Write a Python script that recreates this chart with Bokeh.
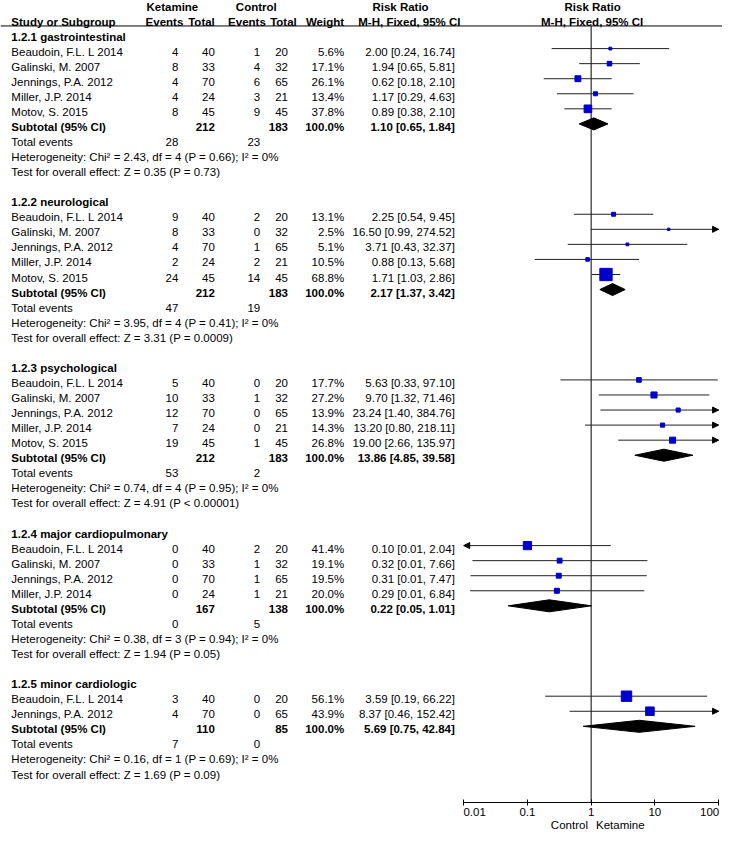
from bokeh.plotting import figure
from bokeh.models import (Range1d, ColumnDataSource, LogAxis, FixedTicker,
                          CustomJSTickFormatter, Arrow, NormalHead)
from bokeh.core.properties import value
from bokeh.embed import file_html
from bokeh.resources import INLINE

# ------------------------------------------------------------------ data
group_titles = ["1.2.1 gastrointestinal", "1.2.2 neurological", "1.2.3 psychological",
                "1.2.4 major cardiopulmonary", "1.2.5 minor cardiologic"]

study_group = [0, 0, 0, 0, 0,
               1, 1, 1, 1, 1,
               2, 2, 2, 2, 2,
               3, 3, 3, 3,
               4, 4]
study_names = ["Beaudoin, F.L. L 2014", "Galinski, M. 2007", "Jennings, P.A. 2012", "Miller, J.P. 2014", "Motov, S. 2015",
               "Beaudoin, F.L. L 2014", "Galinski, M. 2007", "Jennings, P.A. 2012", "Miller, J.P. 2014", "Motov, S. 2015",
               "Beaudoin, F.L. L 2014", "Galinski, M. 2007", "Jennings, P.A. 2012", "Miller, J.P. 2014", "Motov, S. 2015",
               "Beaudoin, F.L. L 2014", "Galinski, M. 2007", "Jennings, P.A. 2012", "Miller, J.P. 2014",
               "Beaudoin, F.L. L 2014", "Jennings, P.A. 2012"]
ket_events = [4, 8, 4, 4, 8,
              9, 8, 4, 2, 24,
              5, 10, 12, 7, 19,
              0, 0, 0, 0,
              3, 4]
ket_total = [40, 33, 70, 24, 45,
             40, 33, 70, 24, 45,
             40, 33, 70, 24, 45,
             40, 33, 70, 24,
             40, 70]
ctl_events = [1, 4, 6, 3, 9,
              2, 0, 1, 2, 14,
              0, 1, 0, 0, 1,
              2, 1, 1, 1,
              0, 0]
ctl_total = [20, 32, 65, 21, 45,
             20, 32, 65, 21, 45,
             20, 32, 65, 21, 45,
             20, 32, 65, 21,
             20, 65]
weight_pct = [5.6, 17.1, 26.1, 13.4, 37.8,
              13.1, 2.5, 5.1, 10.5, 68.8,
              17.7, 27.2, 13.9, 14.3, 26.8,
              41.4, 19.1, 19.5, 20.0,
              56.1, 43.9]
risk_ratio = [2.00, 1.94, 0.62, 1.17, 0.89,
              2.25, 16.50, 3.71, 0.88, 1.71,
              5.63, 9.70, 23.24, 13.20, 19.00,
              0.10, 0.32, 0.31, 0.29,
              3.59, 8.37]
ci_low = [0.24, 0.65, 0.18, 0.29, 0.38,
          0.54, 0.99, 0.43, 0.13, 1.03,
          0.33, 1.32, 1.40, 0.80, 2.66,
          0.0051, 0.0137, 0.0128, 0.0126,
          0.19, 0.46]
ci_high = [16.74, 5.81, 2.10, 4.63, 2.10,
           9.45, 274.52, 32.37, 5.68, 2.86,
           97.10, 71.46, 384.76, 218.11, 135.97,
           2.04, 7.66, 7.47, 6.84,
           66.22, 152.42]

sub_weight = [100.0, 100.0, 100.0, 100.0, 100.0]
sub_rr = [1.10, 2.17, 13.86, 0.22, 5.69]
sub_low = [0.65, 1.37, 4.85, 0.05, 0.75]
sub_high = [1.84, 3.42, 39.58, 1.01, 42.84]
het_chi2 = [2.43, 3.95, 0.74, 0.38, 0.16]
het_df = [4, 4, 4, 3, 1]
het_p = ["0.66", "0.41", "0.95", "0.94", "0.69"]
het_i2 = [0, 0, 0, 0, 0]
z_value = [0.35, 3.31, 4.91, 1.94, 1.69]
z_p = ["= 0.73", "= 0.0009", "< 0.00001", "= 0.05", "= 0.09"]

axis_ticks = [0.01, 0.1, 1, 10, 100]
axis_tick_labels = ["0.01", "0.1", "1", "10", "100"]
side_labels = ["Control", "Ketamine"]

# ------------------------------------------------------------------ layout helpers
PITCH = 15.38
ROW0 = 35.8


def Y(ref):
    return (ref - ROW0) / PITCH


def X(ref):
    return 10 ** (-2 + (ref - 469.0) / 64.5)


FONT = value("Liberation Sans")
FS = "11.5px"
BLUE = "#0000CC"

NAME_L, KE_R, KT_R, CE_R, CT_R, W_R, RR_R = 11, 180, 217, 263, 291, 348, 460

texts = {}


def add(ref_x, y, s, align, bold=False):
    key = (align, bold)
    d = texts.setdefault(key, dict(x=[], y=[], t=[]))
    d["x"].append(X(ref_x))
    d["y"].append(y)
    d["t"].append(s)


# header texts
add(174, Y(5.5), "Ketamine", "center", True)
add(259, Y(5.5), "Control", "center", True)
add(405, Y(5.5), "Risk Ratio", "center", True)
add(599.5, Y(5.5), "Risk Ratio", "center", True)
add(NAME_L, Y(20.5), "Study or Subgroup", "left", True)
add(166, Y(20.5), "Events", "center", True)
add(203.5, Y(20.5), "Total", "center", True)
add(249.5, Y(20.5), "Events", "center", True)
add(286.5, Y(20.5), "Total", "center", True)
add(328.5, Y(20.5), "Weight", "center", True)
add(414, Y(20.5), "M-H, Fixed, 95% CI", "center", True)
add(599, Y(20.5), "M-H, Fixed, 95% CI", "center", True)

st = dict(rr=[], lo=[], hi=[], y=[], size=[])
sb = dict(xs=[], ys=[])
arrows_r = dict(xs=[], xe=[], y=[])
arrows_l = dict(xs=[], xe=[], y=[])
MOFF = 0.2   # marker rows sit slightly above text middle
DH = 0.40    # diamond half height in rows

n = 0
for g, title in enumerate(group_titles):
    add(NAME_L, n, title, "left", True)
    idx = [i for i, sg in enumerate(study_group) if sg == g]
    for i in idx:
        n += 1
        add(NAME_L, n, study_names[i], "left")
        add(KE_R, n, str(ket_events[i]), "right")
        add(KT_R, n, str(ket_total[i]), "right")
        add(CE_R, n, str(ctl_events[i]), "right")
        add(CT_R, n, str(ctl_total[i]), "right")
        add(W_R, n, f"{weight_pct[i]:.1f}%", "right")
        add(RR_R, n, f"{risk_ratio[i]:.2f} [{ci_low[i]:.2f}, {ci_high[i]:.2f}]", "right")
        st["rr"].append(risk_ratio[i])
        st["lo"].append(max(ci_low[i], axis_ticks[0]))
        st["hi"].append(min(ci_high[i], axis_ticks[-1]))
        st["y"].append(n - MOFF)
        st["size"].append(2 + 0.15 * weight_pct[i])
        if ci_high[i] > axis_ticks[-1]:
            arrows_r["xs"].append(axis_ticks[-1] / 1.3)
            arrows_r["xe"].append(axis_ticks[-1])
            arrows_r["y"].append(n - MOFF)
        if ci_low[i] < axis_ticks[0]:
            arrows_l["xs"].append(axis_ticks[0] * 1.3)
            arrows_l["xe"].append(axis_ticks[0])
            arrows_l["y"].append(n - MOFF)
    n += 1
    add(NAME_L, n, "Subtotal (95% CI)", "left", True)
    add(KT_R, n, str(sum(ket_total[i] for i in idx)), "right", True)
    add(CT_R, n, str(sum(ctl_total[i] for i in idx)), "right", True)
    add(W_R, n, f"{sub_weight[g]:.1f}%", "right", True)
    add(RR_R, n, f"{sub_rr[g]:.2f} [{sub_low[g]:.2f}, {sub_high[g]:.2f}]", "right", True)
    yd = n - MOFF
    sb["xs"].append([sub_low[g], sub_rr[g], sub_high[g], sub_rr[g]])
    sb["ys"].append([yd, yd - DH, yd, yd + DH])
    n += 1
    add(NAME_L, n, "Total events", "left")
    add(KE_R, n, str(sum(ket_events[i] for i in idx)), "right")
    add(CE_R, n, str(sum(ctl_events[i] for i in idx)), "right")
    n += 1
    add(NAME_L, n, f"Heterogeneity: Chi\u00b2 = {het_chi2[g]:.2f}, df = {het_df[g]} (P = {het_p[g]}); "
                   f"I\u00b2 = {het_i2[g]}%", "left")
    n += 1
    add(NAME_L, n, f"Test for overall effect: Z = {z_value[g]:.2f} (P {z_p[g]})", "left")
    n += 2

# ------------------------------------------------------------------ figure
p = figure(width=722, height=833, x_axis_type="log",
           x_range=Range1d(X(0), X(731)), y_range=Range1d(Y(818), Y(-1)),
           toolbar_location=None, output_backend="svg",
           min_border_left=0, min_border_right=0, min_border_top=0, min_border_bottom=0,
           outline_line_color=None, y_axis_location=None, background_fill_color="white")
p.grid.visible = False

# axis: line + tick marks at the decades (minor ticks), labels placed as in the
# original (end labels sit just inside the axis ends)
label_pos = [X(480), axis_ticks[1], axis_ticks[2], axis_ticks[3], X(718)]
ax = p.xaxis[0]
ax.ticker = FixedTicker(ticks=label_pos, minor_ticks=axis_ticks)
ax.formatter = CustomJSTickFormatter(args=dict(labels=axis_tick_labels),
                                     code="return labels[index]")
ax.bounds = (axis_ticks[0], axis_ticks[-1])
ax.axis_line_color = "black"
ax.major_tick_line_color = None
ax.major_tick_in = 0
ax.major_tick_out = 3
ax.minor_tick_line_color = "black"
ax.minor_tick_in = 3
ax.minor_tick_out = 3
ax.major_label_standoff = 2
ax.major_label_text_font = "Liberation Sans"
ax.major_label_text_font_size = FS
ax.major_label_text_color = "black"

ax2 = LogAxis(ticker=FixedTicker(ticks=[X(576), X(627.5)]),
              formatter=CustomJSTickFormatter(args=dict(a=side_labels[0], b=side_labels[1]),
                                              code="return tick < 1 ? a : b"),
              axis_line_color=None, major_tick_line_color=None, minor_tick_line_color=None,
              major_tick_in=0, major_tick_out=0, major_label_standoff=0,
              major_label_text_font="Liberation Sans", major_label_text_font_size=FS,
              major_label_text_color="black")
p.add_layout(ax2, "below")

# header rule and line of no effect
p.segment(x0=[X(0)], x1=[X(738)], y0=[Y(25)], y1=[Y(25)], line_color="black", line_width=1)
p.segment(x0=[1], x1=[1], y0=[Y(25)], y1=[Y(818)], line_color="black", line_width=1)

# confidence intervals and squares
src = ColumnDataSource(st)
p.segment(x0="lo", x1="hi", y0="y", y1="y", source=src, line_color="#222222", line_width=1)
p.scatter(x="rr", y="y", size="size", marker="square", source=src,
          fill_color=BLUE, line_color=BLUE)
for d in (arrows_r, arrows_l):
    if d["y"]:
        p.add_layout(Arrow(end=NormalHead(size=6, fill_color="black", line_color="black"),
                           x_start="xs", x_end="xe", y_start="y", y_end="y",
                           source=ColumnDataSource(d), line_alpha=0))

# subtotal diamonds
p.patches(xs="xs", ys="ys", source=ColumnDataSource(sb), fill_color="black", line_color="black")

# texts
for (align, bold), d in texts.items():
    p.text(x="x", y="y", text="t", source=ColumnDataSource(d), text_align=align,
           text_baseline="middle", text_font=FONT, text_font_size=FS,
           text_font_style="bold" if bold else "normal", text_color="black")

open("out.html", "w").write(file_html(p, INLINE))
